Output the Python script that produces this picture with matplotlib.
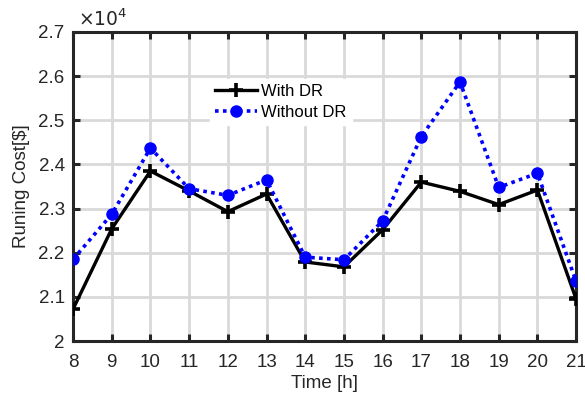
import numpy as np
import matplotlib.pyplot as plt
from matplotlib.ticker import FuncFormatter
plt.rc('font', family='Liberation Sans', size=13.5)

hours = np.arange(8, 22)
cost_dr = [20720, 22540, 23850, 23400, 22930, 23330, 21790, 21680,
           22520, 23600, 23390, 23090, 23420, 20950]
cost_nodr = [21850, 22870, 24370, 23450, 23300, 23650, 21900, 21840,
             22720, 24630, 25870, 23480, 23800, 21350]
xticks = list(range(8, 22))
yticks = [2.0, 2.1, 2.2, 2.3, 2.4, 2.5, 2.6, 2.7]

fig = plt.figure(figsize=(5.85, 3.98), dpi=100)
ax = fig.add_axes([0.1248, 0.1432, 0.86, 0.7764])

ax.plot(hours, np.array(cost_dr) / 1e4, color='k', lw=2.4, marker='+',
        ms=10, mew=2.6, label='With DR', zorder=3)
ax.plot(hours, np.array(cost_nodr) / 1e4, color='#0000ff', lw=2.6, ls=(0, (1, 1.2)),
        marker='o', ms=8, label='Without DR', zorder=3)

ax.set_xlim(8, 21)
ax.set_ylim(2.0, 2.7)
ax.set_xticks(xticks)
ax.set_yticks(yticks)
ax.yaxis.set_major_formatter(FuncFormatter(lambda v, p: '%g' % round(v, 2)))
ax.grid(True, color='#d9d9d9', lw=2)
ax.set_axisbelow(True)
for s in ax.spines.values():
    s.set_linewidth(2.2)
    s.set_color('#262626')
ax.tick_params(direction='in', length=5, width=2.2, top=True, right=True,
               colors='#262626', labelsize=13.5)
ax.tick_params(axis='x', pad=9)
ax.tick_params(axis='y', pad=6)
ax.set_xlabel('Time [h]', color='#262626', fontsize=13.5, labelpad=3)
ax.set_ylabel('Runing Cost[$]', color='#262626', fontsize=13.5, labelpad=6)
ax.text(0.01, 1.005, r'$\times10^{4}$', transform=ax.transAxes, fontsize=13.5,
        color='#262626', ha='left', va='bottom')

leg = ax.legend(loc='upper left', bbox_to_anchor=(0.255, 0.875), frameon=True,
                fancybox=False, edgecolor='white', framealpha=1, fontsize=12,
                handlelength=2.55, borderpad=0.3, labelspacing=0.35, handletextpad=0.25)

fig.savefig('out.png', dpi=100)
